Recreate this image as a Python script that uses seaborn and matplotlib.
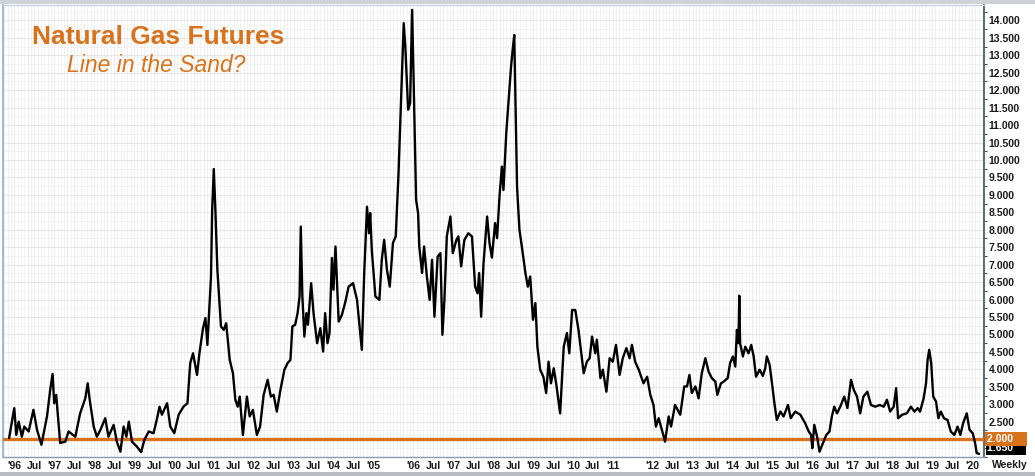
import numpy as np
import pandas as pd
import matplotlib.pyplot as plt
import matplotlib.transforms as mtransforms
from matplotlib.patches import Rectangle
from matplotlib.ticker import FixedLocator
import seaborn as sns

# weekly front-month natural gas (decimal year, $/MMBtu)
dates = [
    1995.87, 1996.00, 1996.05, 1996.11, 1996.19, 1996.25, 1996.36, 1996.48, 1996.57, 1996.68, 1996.82, 1996.90, 1996.96,
    1997.00, 1997.05, 1997.15, 1997.28, 1997.36, 1997.53, 1997.65, 1997.78, 1997.84, 1997.89, 1997.99,
    1998.07, 1998.16, 1998.28, 1998.36, 1998.49, 1998.57, 1998.66, 1998.74, 1998.81, 1998.87, 1998.95,
    1999.07, 1999.18, 1999.26, 1999.37, 1999.49, 1999.58, 1999.64, 1999.70, 1999.83, 1999.91,
    2000.01, 2000.12, 2000.24, 2000.34, 2000.41, 2000.48, 2000.58, 2000.64, 2000.73, 2000.79, 2000.84, 2000.93, 2000.96,
    2001.00, 2001.04, 2001.09, 2001.18, 2001.25, 2001.31, 2001.40, 2001.48, 2001.54, 2001.60, 2001.65, 2001.73, 2001.83, 2001.90, 2001.98,
    2002.08, 2002.16, 2002.25, 2002.35, 2002.43, 2002.50, 2002.58, 2002.67, 2002.77, 2002.85, 2002.92, 2002.97,
    2003.04, 2003.10, 2003.15, 2003.18, 2003.22, 2003.27, 2003.32, 2003.36, 2003.44, 2003.50, 2003.59, 2003.67, 2003.74, 2003.79, 2003.85, 2003.90, 2003.96,
    2004.00, 2004.05, 2004.13, 2004.21, 2004.29, 2004.38, 2004.49, 2004.59, 2004.71, 2004.77, 2004.84, 2004.89, 2004.92, 2004.96,
    2005.05, 2005.15, 2005.21, 2005.27, 2005.34, 2005.41, 2005.49, 2005.56, 2005.63, 2005.69, 2005.76, 2005.80, 2005.87, 2005.92, 2005.97,
    2006.01, 2006.07, 2006.12, 2006.15, 2006.22, 2006.27, 2006.34, 2006.41, 2006.47, 2006.53, 2006.61, 2006.68, 2006.73, 2006.78, 2006.84, 2006.93, 2006.99,
    2007.08, 2007.13, 2007.20, 2007.28, 2007.38, 2007.47, 2007.55, 2007.61, 2007.65, 2007.70, 2007.76, 2007.85, 2007.91, 2007.97,
    2008.05, 2008.10, 2008.16, 2008.22, 2008.26, 2008.33, 2008.39, 2008.45, 2008.49, 2008.53, 2008.56, 2008.60, 2008.66, 2008.72, 2008.81, 2008.87, 2008.93,
    2009.00, 2009.06, 2009.11, 2009.18, 2009.26, 2009.33, 2009.39, 2009.45, 2009.52, 2009.58, 2009.68, 2009.77, 2009.85, 2009.91, 2009.98,
    2010.06, 2010.14, 2010.27, 2010.35, 2010.42, 2010.48, 2010.56, 2010.60, 2010.69, 2010.75, 2010.84, 2010.92,
    2011.00, 2011.08, 2011.17, 2011.25, 2011.34, 2011.42, 2011.48, 2011.56, 2011.65, 2011.77, 2011.86, 2011.94,
    2012.02, 2012.08, 2012.15, 2012.23, 2012.31, 2012.40, 2012.46, 2012.56, 2012.69, 2012.79, 2012.86, 2012.92, 2012.98,
    2013.07, 2013.15, 2013.23, 2013.32, 2013.40, 2013.48, 2013.57, 2013.62, 2013.71, 2013.78, 2013.88, 2013.94,
    2014.01, 2014.07, 2014.11, 2014.15, 2014.17, 2014.19, 2014.26, 2014.32, 2014.40, 2014.47, 2014.53, 2014.59, 2014.68, 2014.76, 2014.82, 2014.86, 2014.93, 2014.99,
    2015.05, 2015.11, 2015.20, 2015.28, 2015.39, 2015.46, 2015.57, 2015.70, 2015.82, 2015.91, 2015.97,
    2016.00, 2016.05, 2016.12, 2016.18, 2016.27, 2016.35, 2016.43, 2016.49, 2016.55, 2016.62, 2016.70, 2016.80, 2016.88, 2016.97,
    2017.04, 2017.12, 2017.20, 2017.28, 2017.38, 2017.47, 2017.58, 2017.69, 2017.79, 2017.87, 2017.95,
    2018.04, 2018.10, 2018.15, 2018.25, 2018.37, 2018.47, 2018.56, 2018.64, 2018.70, 2018.79, 2018.85, 2018.89, 2018.93, 2018.98,
    2019.03, 2019.10, 2019.16, 2019.22, 2019.30, 2019.39, 2019.47, 2019.56, 2019.64, 2019.71, 2019.78, 2019.87, 2019.94,
    2020.02, 2020.08, 2020.12, 2020.18,
]
prices = [
    2.03, 2.89, 2.12, 2.50, 2.07, 2.36, 2.22, 2.84, 2.27, 1.84, 2.65, 3.41, 3.87,
    3.03, 3.27, 1.89, 1.93, 2.22, 2.07, 2.74, 3.17, 3.60, 3.13, 2.36,
    2.07, 2.27, 2.60, 2.07, 2.41, 1.93, 1.64, 2.36, 2.07, 2.50, 1.93,
    1.79, 1.63, 1.98, 2.22, 2.17, 2.60, 2.93, 2.70, 3.03, 2.36,
    2.17, 2.70, 2.93, 3.03, 4.18, 4.46, 3.84, 4.46, 5.18, 5.47, 4.70, 6.66, 8.57,
    9.74, 8.57, 6.85, 5.23, 5.13, 5.32, 4.27, 3.89, 3.13, 2.93, 3.22, 2.12, 3.22, 2.65, 2.84,
    2.12, 2.36, 3.27, 3.70, 3.22, 3.27, 2.79, 3.41, 3.99, 4.18, 4.27, 5.23,
    5.28, 5.61, 6.09, 8.09, 6.09, 4.94, 5.61, 5.28, 6.47, 5.61, 4.75, 5.18, 4.51, 5.61, 4.75, 5.04, 7.19,
    6.28, 7.52, 5.37, 5.56, 5.90, 6.37, 6.47, 5.99, 4.56, 6.76, 8.66, 7.90, 8.48, 7.42,
    6.09, 5.99, 7.14, 7.71, 6.85, 6.37, 7.62, 7.81, 9.62, 11.63, 13.92, 13.25, 11.44, 11.63, 14.30,
    12.20, 8.86, 8.48, 7.52, 6.76, 7.52, 6.66, 5.99, 7.14, 5.51, 7.23, 7.33, 4.99, 5.99, 7.81, 8.38, 7.33,
    7.71, 7.81, 6.95, 7.71, 7.90, 7.81, 6.37, 6.18, 6.76, 5.51, 7.04, 8.38, 7.62, 7.20,
    8.19, 7.76, 8.95, 9.81, 9.14, 10.77, 11.72, 12.68, 13.15, 13.58, 11.72, 9.24, 8.00, 7.52, 6.76, 6.37, 6.66,
    5.42, 5.90, 4.65, 3.99, 3.79, 3.32, 4.22, 3.60, 4.03, 3.60, 2.74, 4.65, 5.04, 4.46, 5.70,
    5.70, 5.13, 3.89, 4.22, 4.32, 4.94, 4.46, 4.85, 3.75, 3.99, 3.36, 4.32,
    4.22, 4.70, 3.84, 4.32, 4.61, 4.32, 4.70, 4.22, 3.99, 3.60, 3.79, 3.27,
    2.98, 2.36, 2.60, 2.27, 1.93, 2.65, 2.36, 2.98, 2.70, 3.51, 3.51, 3.84, 3.32,
    3.51, 3.17, 3.89, 4.32, 3.94, 3.75, 3.65, 3.27, 3.60, 3.65, 3.75, 4.18,
    4.37, 4.08, 5.13, 4.75, 6.11, 4.75, 4.37, 4.65, 4.46, 4.70, 4.37, 3.79, 3.99, 3.81, 4.03, 4.37, 4.13, 3.60,
    3.03, 2.55, 2.79, 2.65, 2.98, 2.60, 2.79, 2.70, 2.46, 2.22, 2.12,
    1.74, 2.41, 2.07, 1.64, 1.89, 2.12, 2.22, 2.65, 2.93, 2.74, 2.93, 3.22, 2.89, 3.70,
    3.41, 3.22, 2.74, 3.22, 3.36, 2.98, 2.93, 2.98, 2.93, 3.13, 2.79,
    2.93, 3.46, 2.60, 2.70, 2.74, 2.93, 2.79, 2.89, 2.79, 3.17, 3.60, 4.27, 4.56, 4.18,
    3.22, 3.08, 2.60, 2.79, 2.60, 2.55, 2.22, 2.12, 2.36, 2.12, 2.46, 2.74, 2.27,
    2.17, 1.89, 1.60, 1.58,
]

line_in_sand = 2.0
last_price = 1.650

years = list(range(1996, 2021))
skip_jul = [2005, 2011]          # crowded out on the original
y_tick_values = [2.5, 3.0, 3.5, 4.0, 4.5, 5.0, 5.5, 6.0, 6.5, 7.0, 7.5, 8.0, 8.5,
                 9.0, 9.5, 10.0, 10.5, 11.0, 11.5, 12.0, 12.5, 13.0, 13.5, 14.0]

ORANGE = "#d9731b"

sns.set_style("white")
plt.rcParams['font.family'] = ['Liberation Sans', 'DejaVu Sans']

fig = plt.figure(figsize=(10.35, 4.76), dpi=100)
ax = fig.add_axes([0.003, 0.040, 0.948, 0.9495])

# window chrome: toolbar strip on top, status strip at the bottom
fig.patches.append(Rectangle((0, 1 - 4 / 476), 1, 4 / 476, transform=fig.transFigure,
                             facecolor="#cfd3d8", edgecolor="none", zorder=0))
fig.patches.append(Rectangle((0, 0), 1, 4 / 476, transform=fig.transFigure,
                             facecolor="#b8bcc2", edgecolor="none", zorder=0))

df = pd.DataFrame({"date": dates, "price": prices})
sns.lineplot(data=df, x="date", y="price", color="black", linewidth=1.7, ax=ax, zorder=4)
ax.axhline(line_in_sand, color=ORANGE, linewidth=2.4, zorder=3)

ax.set_xlim(1995.72, 2020.31)
ax.set_ylim(1.49, 14.44)
ax.set_xlabel("")
ax.set_ylabel("")

# x ticks: year starts + July, as on the source chart
xt, xl = [], []
for y in years:
    xt.append(y)
    xl.append("'" + str(y)[2:])
    if y < 2020 and y not in skip_jul:
        xt.append(y + 0.5)
        xl.append("Jul")
ax.set_xticks(xt)
ax.set_xticklabels(xl, fontsize=7.5, fontweight="bold", color="#1a1a1a")
ax.tick_params(axis="x", length=0, pad=3)

# light chart grid
ax.xaxis.set_minor_locator(FixedLocator([y + m / 12 for y in range(1995, 2021) for m in range(12)]))
ax.yaxis.set_minor_locator(FixedLocator(np.arange(1.5, 14.5, 0.25)))
ax.grid(which="minor", color="#f1f1f1", linewidth=0.7)
ax.grid(which="major", axis="y", color="#e6e6e6", linewidth=0.8)
ax.grid(which="major", axis="x", color="#ececec", linewidth=0.7)
ax.set_axisbelow(True)

ax.yaxis.tick_right()
ax.set_yticks(y_tick_values)
ax.set_yticklabels([f"{v:.3f}" for v in y_tick_values], fontsize=7.5, fontweight="bold", color="#1a1a1a")
ax.tick_params(axis="y", length=0, pad=3)

for side, col, lw in [("right", "#555c6a", 1.3), ("bottom", "#8a9ab4", 1.0),
                      ("left", "#a8b8d0", 1.5), ("top", "#c8d4e4", 1.0)]:
    ax.spines[side].set_visible(True)
    ax.spines[side].set_color(col)
    ax.spines[side].set_linewidth(lw)

# price tags on the right scale
tr = mtransforms.blended_transform_factory(ax.transAxes, ax.transData)
ax.text(1.003, last_price + 0.1, f"{last_price:.3f}    ", transform=tr, fontsize=7.5, fontweight="bold",
        color="white", va="center", ha="left", clip_on=False,
        bbox=dict(facecolor="black", edgecolor="none", pad=1.2))
ax.text(1.003, line_in_sand, f"{line_in_sand:.3f}    ", transform=tr, fontsize=7.5, fontweight="bold",
        color="white", va="center", ha="left", clip_on=False,
        bbox=dict(facecolor=ORANGE, edgecolor="none", pad=1.6))

fig.text(1010 / 1035, 1 - 465 / 476, "Weekly", fontsize=7.5, fontweight="bold", color="#1a1a1a",
         ha="center", va="center")

fig.text(158 / 1035, 1 - 37 / 476, "Natural Gas Futures", fontsize=19, fontweight="bold",
         color=ORANGE, ha="center", va="center")
fig.text(156 / 1035, 1 - 65 / 476, "Line in the Sand?", fontsize=16.5, style="italic",
         color=ORANGE, ha="center", va="center")

fig.savefig("out.png", dpi=100)
